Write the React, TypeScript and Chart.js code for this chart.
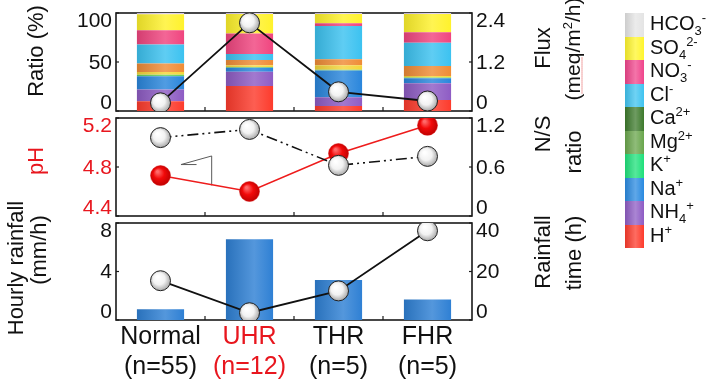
import React, { useEffect, useRef } from 'react';
import { Chart, registerables } from 'chart.js';

Chart.register(...registerables);

const FONT = "'Liberation Sans', Arial, Helvetica, sans-serif";

// ---------- data ----------
const categoryNames = ['Normal', 'UHR', 'THR', 'FHR'];
const categoryCounts = ['(n=55)', '(n=12)', '(n=5)', '(n=5)'];
const categoryColors = ['#111111', '#e8161e', '#111111', '#111111'];

// ion ratios (%) per category, stacked bottom -> top
const ratioH = [10, 25.5, 5.1, 11.2];
const ratioNH4 = [12, 14.6, 8.9, 17];
const ratioNa = [13.5, 4.1, 27.2, 5.1];
const ratioK = [1.5, 0.8, 1.0, 0.8];
const ratioMg = [2.9, 1.6, 4.5, 1.6];
const ratioCa = [8.6, 5.4, 6.1, 10.2];
const ratioCl = [19.4, 6.1, 34, 23.8];
const ratioNO3 = [14.6, 21.1, 2.8, 10.6];
const ratioSO4 = [16.3, 19.7, 9.4, 18.7];
const ratioHCO3 = [1.2, 1.1, 1.0, 1.0];

const ionNames = ['H+', 'NH4+', 'Na+', 'K+', 'Mg2+', 'Ca2+', 'Cl-', 'NO3-', 'SO42-', 'HCO3-'];
const ionRatios = [ratioH, ratioNH4, ratioNa, ratioK, ratioMg, ratioCa, ratioCl, ratioNO3, ratioSO4, ratioHCO3];

const flux = [0.2, 2.16, 0.47, 0.245];
const pH = [4.73, 4.6, 4.91, 5.14];
const nsRatio = [0.96, 1.06, 0.62, 0.73];
const hourlyRainfall = [0.88, 6.65, 3.3, 1.7];
const rainfallTime = [16.2, 3.0, 12.0, 36.8];

const ratioTicks = [0, 50, 100];
const ratioTickLabels = ['0', '50', '100'];
const fluxTicks = [0, 1.2, 2.4];
const fluxTickLabels = ['0', '1.2', '2.4'];
const pHTicks = [4.4, 4.8, 5.2];
const pHTickLabels = ['4.4', '4.8', '5.2'];
const nsTicks = [0, 0.6, 1.2];
const nsTickLabels = ['0', '0.6', '1.2'];
const rainTicks = [0, 4, 8];
const rainTickLabels = ['0', '4', '8'];
const timeTicks = [0, 20, 40];
const timeTickLabels = ['0', '20', '40'];

// legend (top -> bottom)
const legendLabels = [
  { base: 'HCO', sub: '3', sup: '-' },
  { base: 'SO', sub: '4', sup: '2-' },
  { base: 'NO', sub: '3', sup: '-' },
  { base: 'Cl', sub: '', sup: '-' },
  { base: 'Ca', sub: '', sup: '2+' },
  { base: 'Mg', sub: '', sup: '2+' },
  { base: 'K', sub: '', sup: '+' },
  { base: 'Na', sub: '', sup: '+' },
  { base: 'NH', sub: '4', sup: '+' },
  { base: 'H', sub: '', sup: '+' },
];

// ---------- styles ----------
const ionBarColors = ['#fd3b2c', '#8e5cc4', '#2a86dc', '#62cf5a', '#f5d63a', '#ef8c36', '#3cc2f0', '#f0457f', '#fff22c', '#d8c9ee'];
const legendColors = ['#e4e4e4', '#fff52e', '#f0458c', '#3fc3f0', '#3d7a2c', '#69a64c', '#1ee07a', '#2a8ae0', '#8e5cc4', '#fd3b2c'];

const PLOT_LEFT = 116;
const PLOT_RIGHT = 472;
const W = 710;
const H = 383;

function mix(hex: string, target: number, t: number) {
  const n = parseInt(hex.slice(1), 16);
  const r = (n >> 16) & 255, g = (n >> 8) & 255, b = n & 255;
  const f = (c: number) => Math.round(c + (target - c) * t);
  return `rgb(${f(r)},${f(g)},${f(b)})`;
}

function barGradient(color: string) {
  return (ctx: any) => {
    const chart = ctx.chart;
    if (ctx.type !== 'data' || !chart.chartArea || !chart.scales.x) return color;
    const xs = chart.scales.x;
    const x = xs.getPixelForValue(ctx.dataIndex);
    const half = (xs.getPixelForValue(1) - xs.getPixelForValue(0)) * 0.53 / 2;
    const g = chart.ctx.createLinearGradient(x - half, 0, x + half, 0);
    g.addColorStop(0, mix(color, 0, 0.12));
    g.addColorStop(0.6, mix(color, 255, 0.18));
    g.addColorStop(1, color);
    return g;
  };
}

function ball(kind: 'white' | 'red', yId: string) {
  return (ctx: any) => {
    const chart = ctx.chart;
    const fallback = kind === 'red' ? '#ee1111' : '#ffffff';
    if (ctx.type !== 'data' || !chart.chartArea || !chart.scales[yId]) return fallback;
    const x = chart.scales.x.getPixelForValue(ctx.dataIndex);
    const y = chart.scales[yId].getPixelForValue(ctx.raw);
    const g = chart.ctx.createRadialGradient(x - 3, y - 4, 1, x, y, 11);
    if (kind === 'red') {
      g.addColorStop(0, '#ff6a6a');
      g.addColorStop(0.45, '#f20a0a');
      g.addColorStop(1, '#b80000');
    } else {
      g.addColorStop(0, '#ffffff');
      g.addColorStop(0.5, '#f2f2f2');
      g.addColorStop(1, '#9c9c9c');
    }
    return g;
  };
}

type AxisSpec = { id: string; side: 'left' | 'right'; ticks: number[]; labels: string[]; color: string };

function makeFrame(axes: AxisSpec[], extra?: (chart: any) => void) {
  return {
    id: 'frame',
    beforeDatasetsDraw(chart: any) {
      const { ctx, chartArea: a } = chart;
      ctx.save();
      ctx.strokeStyle = '#1a1a1a';
      ctx.lineWidth = 1.6;
      ctx.strokeRect(a.left, a.top, a.right - a.left, a.bottom - a.top);
      const xs = chart.scales.x;
      ctx.lineWidth = 1.2;
      for (let i = 1; i < categoryNames.length; i++) {
        const px = (xs.getPixelForValue(i - 1) + xs.getPixelForValue(i)) / 2;
        ctx.beginPath();
        ctx.moveTo(px, a.bottom);
        ctx.lineTo(px, a.bottom - 4);
        ctx.stroke();
      }
      ctx.font = `21px ${FONT}`;
      ctx.textBaseline = 'middle';
      for (const ax of axes) {
        const sc = chart.scales[ax.id];
        ctx.fillStyle = ax.color;
        ax.ticks.forEach((v, i) => {
          const py = sc.getPixelForValue(v);
          const edge = ax.side === 'left' ? a.left : a.right;
          const dir = ax.side === 'left' ? 1 : -1;
          ctx.strokeStyle = '#1a1a1a';
          ctx.beginPath();
          ctx.moveTo(edge, py);
          ctx.lineTo(edge + dir * 3, py);
          ctx.stroke();
          const cy = Math.max(a.top + 7, Math.min(a.bottom - 9, py));
          ctx.textAlign = ax.side === 'left' ? 'right' : 'left';
          ctx.fillText(ax.labels[i], ax.side === 'left' ? a.left - 4 : a.right + 4, cy + 1);
        });
      }
      if (extra) extra(chart);
      ctx.restore();
    },
  };
}

// slope mark annotation in the pH panel (data coordinates)
const slopeX0 = 0.23;
const slopeXMid = 0.405;
const slopeX1 = 0.575;
const slopeBase = 4.82;
const slopeTop = 4.89;
const slopeBottom = 4.65;

function drawSlope(chart: any) {
  const { ctx } = chart;
  const xs = chart.scales.x;
  const ys = chart.scales.yL;
  const x0 = xs.getPixelForValue(slopeX0);
  const xm = xs.getPixelForValue(slopeXMid);
  const x1 = xs.getPixelForValue(slopeX1);
  ctx.strokeStyle = '#5a5a5a';
  ctx.lineWidth = 1;
  ctx.beginPath();
  ctx.moveTo(xm, ys.getPixelForValue(slopeBase));
  ctx.lineTo(x0, ys.getPixelForValue(slopeBase));
  ctx.lineTo(x1, ys.getPixelForValue(slopeTop));
  ctx.lineTo(x1, ys.getPixelForValue(slopeBottom));
  ctx.stroke();
}

const baseOptions = (padding: any) => ({
  responsive: false,
  maintainAspectRatio: false,
  animation: false as const,
  devicePixelRatio: 1,
  events: [] as any[],
  layout: { padding },
  plugins: { legend: { display: false }, tooltip: { enabled: false } },
});

function Title({ text, cx, cy, color = '#111', size = 22, children }: any) {
  return (
    <div
      style={{
        position: 'absolute',
        left: cx,
        top: cy,
        transform: 'translate(-50%, -50%) rotate(-90deg)',
        whiteSpace: 'nowrap',
        fontFamily: FONT,
        fontSize: size,
        lineHeight: '22px',
        color,
      }}
    >
      {children || text}
    </div>
  );
}

export default function App() {
  const r1 = useRef<HTMLCanvasElement>(null);
  const r2 = useRef<HTMLCanvasElement>(null);
  const r3 = useRef<HTMLCanvasElement>(null);

  useEffect(() => {
    const charts: Chart[] = [];

    // ---- top panel: ion ratios + flux ----
    charts.push(
      new Chart(r1.current!, {
        type: 'bar',
        data: {
          labels: categoryNames,
          datasets: [
            ...ionRatios.map((d, i) => ({
              type: 'bar' as const,
              label: ionNames[i],
              data: d,
              yAxisID: 'y',
              backgroundColor: barGradient(ionBarColors[i]),
              borderWidth: 0,
              barPercentage: 0.53,
              categoryPercentage: 1,
              order: 2,
            })),
            {
              type: 'line' as const,
              label: 'Flux',
              data: flux,
              yAxisID: 'y2',
              borderColor: '#111',
              borderWidth: 1.8,
              pointRadius: 10,
              pointBackgroundColor: ball('white', 'y2'),
              pointBorderColor: '#222',
              pointBorderWidth: 1,
              order: 0,
            } as any,
          ],
        },
        options: {
          ...baseOptions({ left: PLOT_LEFT, right: W - PLOT_RIGHT, top: 13, bottom: H - 111 }),
          scales: {
            x: { display: false, offset: true, stacked: true },
            y: { display: false, stacked: true, min: 0, max: 100 },
            y2: { display: false, position: 'right', min: 0, max: 2.4 },
          },
        } as any,
        plugins: [
          makeFrame([
            { id: 'y', side: 'left', ticks: ratioTicks, labels: ratioTickLabels, color: '#111' },
            { id: 'y2', side: 'right', ticks: fluxTicks, labels: fluxTickLabels, color: '#111' },
          ]),
        ],
      })
    );

    // ---- middle panel: pH + N/S ratio ----
    charts.push(
      new Chart(r2.current!, {
        type: 'line',
        data: {
          labels: categoryNames,
          datasets: [
            {
              label: 'pH',
              data: pH,
              yAxisID: 'yL',
              borderColor: '#ee1c1c',
              borderWidth: 1.6,
              pointRadius: 10,
              pointBackgroundColor: ball('red', 'yL'),
              pointBorderColor: '#d81010',
              pointBorderWidth: 0.5,
              order: 1,
            },
            {
              label: 'N/S ratio',
              data: nsRatio,
              yAxisID: 'yR',
              borderColor: '#111',
              borderWidth: 1.6,
              borderDash: [11, 4, 2, 4, 2, 4],
              pointRadius: 10,
              pointBackgroundColor: ball('white', 'yR'),
              pointBorderColor: '#222',
              pointBorderWidth: 1,
              order: 0,
            },
          ],
        },
        options: {
          ...baseOptions({ left: PLOT_LEFT, right: W - PLOT_RIGHT, top: 118, bottom: H - 216 }),
          scales: {
            x: { display: false, offset: true },
            yL: { display: false, position: 'left', min: 4.4, max: 5.2 },
            yR: { display: false, position: 'right', min: 0, max: 1.2 },
          },
        } as any,
        plugins: [
          makeFrame(
            [
              { id: 'yL', side: 'left', ticks: pHTicks, labels: pHTickLabels, color: '#e8161e' },
              { id: 'yR', side: 'right', ticks: nsTicks, labels: nsTickLabels, color: '#111' },
            ],
            drawSlope
          ),
        ],
      })
    );

    // ---- bottom panel: hourly rainfall + rainfall time ----
    charts.push(
      new Chart(r3.current!, {
        type: 'bar',
        data: {
          labels: categoryNames.map((n, i) => [n, categoryCounts[i]]),
          datasets: [
            {
              type: 'bar' as const,
              label: 'Hourly rainfall',
              data: hourlyRainfall,
              yAxisID: 'y',
              backgroundColor: barGradient('#2f80d4'),
              borderWidth: 0,
              barPercentage: 0.53,
              categoryPercentage: 1,
              order: 2,
            },
            {
              type: 'line' as const,
              label: 'Rainfall time',
              data: rainfallTime,
              yAxisID: 'y2',
              borderColor: '#111',
              borderWidth: 1.8,
              pointRadius: 10,
              pointBackgroundColor: ball('white', 'y2'),
              pointBorderColor: '#222',
              pointBorderWidth: 1,
              order: 0,
            } as any,
          ],
        },
        options: {
          ...baseOptions({ left: PLOT_LEFT, right: W - PLOT_RIGHT, top: 223, bottom: 0 }),
          scales: {
            x: {
              offset: true,
              grid: { display: false, drawTicks: false },
              border: { display: false },
              ticks: {
                autoSkip: false,
                maxRotation: 0,
                padding: 2,
                color: (c: any) => categoryColors[c.index] || '#111',
                font: { family: FONT, size: 25, lineHeight: 1.2 },
              },
              afterFit: (s: any) => {
                s.height = H - 320;
              },
            },
            y: { display: false, min: 0, max: 8 },
            y2: { display: false, position: 'right', min: 0, max: 40 },
          },
        } as any,
        plugins: [
          makeFrame([
            { id: 'y', side: 'left', ticks: rainTicks, labels: rainTickLabels, color: '#111' },
            { id: 'y2', side: 'right', ticks: timeTicks, labels: timeTickLabels, color: '#111' },
          ]),
        ],
      })
    );

    return () => charts.forEach((c) => c.destroy());
  }, []);

  const canvasStyle: React.CSSProperties = { position: 'absolute', left: 0, top: 0 };
  const supStyle: React.CSSProperties = { fontSize: 13, position: 'relative', top: -8, verticalAlign: 'baseline' };
  const subStyle: React.CSSProperties = { fontSize: 13, position: 'relative', top: 5, verticalAlign: 'baseline' };

  return (
    <div style={{ position: 'fixed', left: 0, top: 0, width: W, height: H, background: '#fff', overflow: 'hidden' }}>
      <canvas ref={r1} width={W} height={H} style={canvasStyle} />
      <canvas ref={r2} width={W} height={H} style={canvasStyle} />
      <canvas ref={r3} width={W} height={H} style={canvasStyle} />

      {/* left titles */}
      <Title text="Ratio (%)" cx={36} cy={51} />
      <Title text="pH" cx={36} cy={161} color="#e8161e" />
      <Title text="Hourly rainfall" cx={16} cy={268} />
      <Title text="(mm/h)" cx={39} cy={250} />

      {/* right titles */}
      <Title text="Flux" cx={543} cy={48} />
      <Title cx={574} cy={49} size={21}>
        <span>
          (
          <span style={{ textDecoration: 'underline dotted #e04848', textDecorationThickness: 1, textUnderlineOffset: 2 }}>meq</span>
          /m<sup style={{ fontSize: 13, verticalAlign: 'baseline', position: 'relative', top: -8 }}>2</sup>/h)
        </span>
      </Title>
      <Title text="N/S" cx={543} cy={134} />
      <Title text="ratio" cx={574} cy={152} />
      <Title text="Rainfall" cx={543} cy={252} />
      <Title text="time (h)" cx={574} cy={253} />

      {/* legend */}
      <div style={{ position: 'absolute', left: 625, top: 13 }}>
        {legendLabels.map((l, i) => (
          <div key={i} style={{ display: 'flex', alignItems: 'center', height: 23.5 }}>
            <div
              style={{
                width: 19,
                height: 23.5,
                background: `linear-gradient(to right, ${mix(legendColors[i], 0, 0.1)}, ${mix(legendColors[i], 255, 0.25)} 55%, ${legendColors[i]})`,
              }}
            />
            <div style={{ marginLeft: 6, fontFamily: FONT, fontSize: 20, lineHeight: '23px', color: '#111', whiteSpace: 'nowrap' }}>
              {l.base}
              {l.sub && <span style={subStyle}>{l.sub}</span>}
              {l.sup && <span style={supStyle}>{l.sup}</span>}
            </div>
          </div>
        ))}
      </div>
    </div>
  );
}
